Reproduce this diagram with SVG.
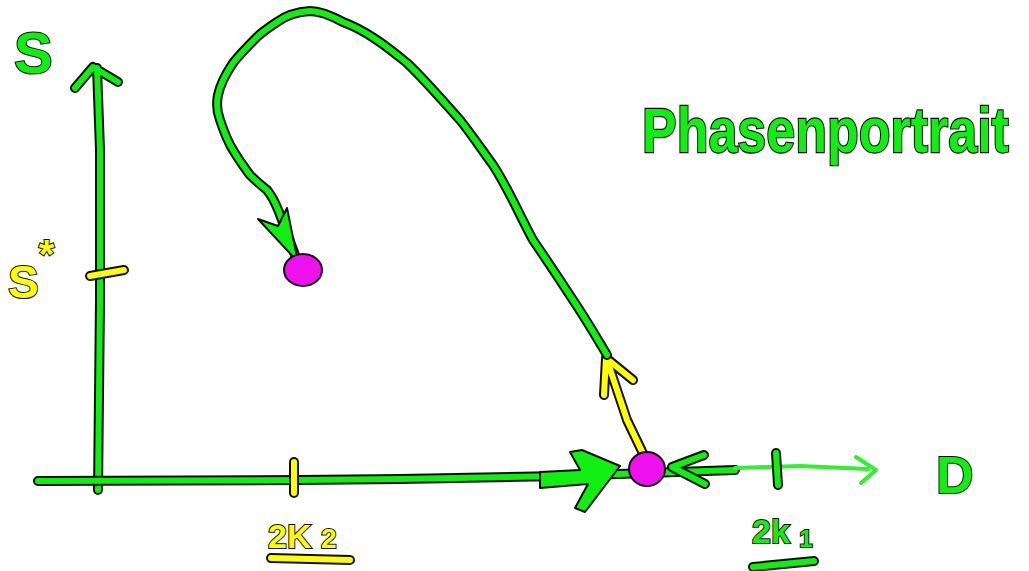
<svg xmlns="http://www.w3.org/2000/svg" width="1029" height="571" viewBox="0 0 1029 571">
<style>
.o{fill:none;stroke:#111;stroke-width:10;stroke-linecap:round;stroke-linejoin:round}
.g{fill:none;stroke:#11ee11;stroke-width:6;stroke-linecap:round;stroke-linejoin:round}
.y{fill:none;stroke:#ffff00;stroke-width:6;stroke-linecap:round;stroke-linejoin:round}
.gl{fill:none;stroke:#33ee33;stroke-width:4;stroke-linecap:round;stroke-linejoin:round}
.tg{font-family:"Liberation Sans",Arial,sans-serif;font-weight:bold;fill:#11ee11;stroke:#111;stroke-width:2;paint-order:stroke}
.ty{font-family:"Liberation Sans",Arial,sans-serif;font-weight:bold;fill:#ffff00;stroke:#111;stroke-width:2;paint-order:stroke}
.pt{fill:#ee11ee;stroke:#111;stroke-width:2}
.fa{fill:#11ee11;stroke:#111;stroke-width:2;stroke-linejoin:round}
</style>
<rect width="1029" height="571" fill="#fff"/>

<g id="axis-S">
  <path class="o" d="M98,490 L100,300 L100,150 L97,68 M75,88 L93,67 L118,82"/>
  <path class="g" d="M98,490 L100,300 L100,150 L97,68 M75,88 L93,67 L118,82"/>
  <path class="o" d="M90,276 L124,270"/>
  <path class="y" d="M90,276 L124,270"/>
</g>

<g id="axis-D">
  <path class="o" d="M38,481 L300,480 L400,479 L560,476 L735,470"/>
  <path class="g" d="M38,481 L300,480 L400,479 L560,476 L735,470"/>
  <path class="gl" d="M735,468 L800,466 L868,469 M856,457 L876,470 L861,483"/>
  <path class="o" d="M776,453 L778,485"/>
  <path class="g" d="M776,453 L778,485"/>
  <path class="o" d="M294,462 L294,493"/>
  <path class="y" d="M294,462 L294,493"/>
</g>

<g id="trajectory">
  <path class="o" d="M650,468 L627,420 L607,360 M604,395 L606,358 L633,380"/>
  <path class="y" d="M650,468 L627,420 L607,360 M604,395 L606,358 L633,380"/>
  <path class="o" d="M607,355 C597,338 585,318 573,300 C560,280 548,262 533,240 C518,212 508,188 493,165 C482,150 472,135 460,120 C442,100 425,80 407,63 C385,45 365,30 343,22 C330,15 320,11 310,11 C295,12 285,16 277,22 C268,28 262,32 257,37 C248,46 240,54 233,63 C225,75 220,85 218,95 C216,105 217,112 220,120 C224,132 228,142 233,150 C240,162 245,168 250,175 C257,182 262,186 267,190 C272,196 275,202 279,212 L295,255"/>
  <path class="g" d="M607,355 C597,338 585,318 573,300 C560,280 548,262 533,240 C518,212 508,188 493,165 C482,150 472,135 460,120 C442,100 425,80 407,63 C385,45 365,30 343,22 C330,15 320,11 310,11 C295,12 285,16 277,22 C268,28 262,32 257,37 C248,46 240,54 233,63 C225,75 220,85 218,95 C216,105 217,112 220,120 C224,132 228,142 233,150 C240,162 245,168 250,175 C257,182 262,186 267,190 C272,196 275,202 279,212 L295,255"/>
  <path class="fa" d="M258,219 L278,226 L287,208 L298,262 Z"/>
</g>

<g id="arrows-D">
  <path class="fa" d="M540,472 L580,470 L570,452 L582,450 L620,466 L585,512 L575,508 L588,484 L540,488 Z"/>
  <path class="o" d="M704,455 L672,467 L705,484"/>
  <path class="g" d="M704,455 L672,467 L705,484"/>
</g>

<g id="point-1"><ellipse class="pt" cx="303" cy="270" rx="19" ry="16"/></g>
<g id="point-2"><ellipse class="pt" cx="647" cy="469" rx="18" ry="17"/></g>

<g id="labels">
  <text class="tg" x="14" y="73" font-size="58">S</text>
  <text class="ty" x="8" y="298" font-size="46">S<tspan font-size="40" dy="-30">*</tspan></text>
  <text class="ty" x="268" y="548" font-size="34">2K <tspan font-size="28">2</tspan></text>
  <path class="o" d="M271,558 L350,560"/>
  <path class="y" d="M271,558 L350,560"/>
  <text class="tg" x="752" y="543" font-size="34">2k <tspan font-size="24" dy="4">1</tspan></text>
  <path class="o" d="M753,567 L814,561"/>
  <path class="g" d="M753,567 L814,561"/>
  <text class="tg" x="936" y="493" font-size="52">D</text>
  <text class="tg" transform="translate(642,152) scale(1,1.2)" font-size="52">Phasenportrait</text>
</g>
</svg>
